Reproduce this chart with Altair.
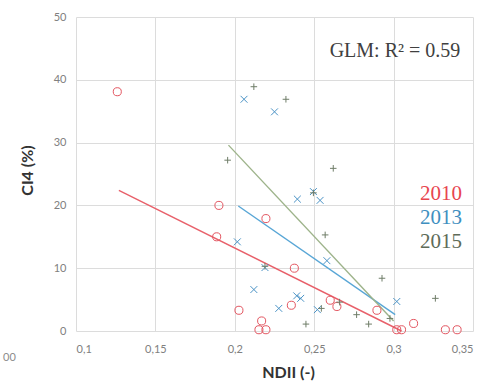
import altair as alt
import pandas as pd

# ---- data ----
ndii_2010 = [0.126, 0.190, 0.1886, 0.2026, 0.2196, 0.2375, 0.2356, 0.2169, 0.2152, 0.2196,
             0.2601, 0.2643, 0.2895, 0.3126, 0.302, 0.305, 0.3326, 0.340]
ci4_2010 = [38.1, 20.0, 15.0, 3.3, 17.9, 10.0, 4.1, 1.6, 0.2, 0.2,
            4.9, 3.9, 3.3, 1.2, 0.2, 0.2, 0.2, 0.2]

ndii_2013 = [0.2058, 0.225, 0.2394, 0.2495, 0.2537, 0.2016, 0.258, 0.219, 0.212, 0.239,
             0.2415, 0.2277, 0.252, 0.302]
ci4_2013 = [36.9, 34.9, 21.0, 22.2, 20.8, 14.2, 11.2, 10.1, 6.6, 5.6,
            5.2, 3.6, 3.4, 4.7]

ndii_2015 = [0.212, 0.2322, 0.1955, 0.262, 0.2569, 0.2495, 0.219, 0.2927, 0.3263, 0.2545,
             0.2448, 0.2767, 0.2843, 0.2977, 0.266]
ci4_2015 = [38.9, 36.9, 27.2, 25.9, 15.3, 22.0, 10.3, 8.4, 5.2, 3.6,
            1.1, 2.6, 1.1, 2.0, 4.6]

fit_year = ["2010", "2010", "2013", "2013", "2015", "2015"]
fit_ndii = [0.127, 0.305, 0.2022, 0.301, 0.196, 0.300]
fit_ci4 = [22.4, 0.0, 19.9, 2.6, 29.6, 1.6]

years = ["2010", "2013", "2015"]
label_y = [20.9, 17.1, 13.2]
label_x = [0.343, 0.343, 0.343]
glm_text = ["GLM: R\u00b2 = 0.59"]

point_colors = ["#e35560", "#4b93c6", "#6f7d68"]
line_colors = ["#e8606a", "#58a6d6", "#9db38a"]
text_colors = ["#e8454f", "#3f8fc0", "#5e6b58"]

xpath = "M-1,-1L1,1M-1,1L1,-1"
ppath = "M-1.2,0L1.2,0M0,-1.2L0,1.2"

pts = pd.concat([
    pd.DataFrame({"ndii": ndii_2010, "ci4": ci4_2010, "year": "2010"}),
    pd.DataFrame({"ndii": ndii_2013, "ci4": ci4_2013, "year": "2013"}),
    pd.DataFrame({"ndii": ndii_2015, "ci4": ci4_2015, "year": "2015"}),
], ignore_index=True)
fits = pd.DataFrame({"ndii": fit_ndii, "ci4": fit_ci4, "year": fit_year})
labels = pd.DataFrame({"ndii": label_x, "ci4": label_y, "year": years})
glm = pd.DataFrame({"ndii": [0.342], "ci4": [43.6], "t": glm_text})

label_expr = "replace(format(datum.value, '.2~f'), '.', ',')"

xenc = alt.X("ndii:Q", scale=alt.Scale(domain=[0.1, 0.35], nice=False, zero=False),
             axis=alt.Axis(values=[0.1, 0.15, 0.2, 0.25, 0.3, 0.35], labelExpr=label_expr,
                           title="NDII (-)", titleX=212, titleY=41, titleBaseline="middle",
                           labelPadding=12))
yenc = alt.Y("ci4:Q", scale=alt.Scale(domain=[0, 50], nice=False),
             axis=alt.Axis(values=[0, 10, 20, 30, 40, 50], title="CI4 (%)",
                           titleX=-49, titleY=153, titleBaseline="middle", labelPadding=10))

lines = alt.Chart(fits).mark_line(strokeWidth=1.4).encode(
    x=xenc, y=yenc, detail="year:N",
    color=alt.Color("year:N", scale=alt.Scale(domain=years, range=line_colors), legend=None),
)

points = alt.Chart(pts).mark_point(filled=False, strokeWidth=1, opacity=1).encode(
    x=xenc, y=yenc,
    shape=alt.Shape("year:N", scale=alt.Scale(domain=years, range=["circle", xpath, ppath]), legend=None),
    size=alt.Size("year:N", scale=alt.Scale(domain=years, range=[65, 30, 30]), legend=None),
    stroke=alt.Stroke("year:N", scale=alt.Scale(domain=years, range=point_colors), legend=None),
)

legend_text = alt.Chart(labels).mark_text(align="right", baseline="alphabetic", font="Liberation Serif",
                                          fontSize=21).encode(
    x=xenc, y=yenc, text="year:N",
    color=alt.Color("year:N", scale=alt.Scale(domain=years, range=text_colors), legend=None),
)

glm_mark = alt.Chart(glm).mark_text(align="right", baseline="alphabetic", font="Liberation Serif",
                                    fontSize=20, color="#404040").encode(
    x=xenc, y=yenc, text="t:N")

stub = alt.Chart(pd.DataFrame({"t": ["00"]})).mark_text(
    align="left", baseline="middle", font="Lato", fontSize=11, color="#8c8c8c").encode(
    x=alt.value(-73), y=alt.value(341), text="t:N")

chart = alt.layer(lines, points, legend_text, glm_mark, stub).resolve_scale(
    color="independent"
).properties(
    width=397, height=314,
    autosize=alt.AutoSizeParams(type="none"),
    padding={"left": 76, "top": 17, "right": 11, "bottom": 52},
).configure_view(strokeWidth=0).configure_axis(
    grid=True, gridColor="#dcdcdc", gridWidth=1, domain=False, ticks=False,
    labelFont="Lato", labelFontSize=11, labelColor="#808080",
    titleFont="Lato", titleFontSize=16, titleFontWeight="bold", titleColor="#333333",
)

chart.save("out.html", embed_options={"renderer": "svg", "actions": False})
